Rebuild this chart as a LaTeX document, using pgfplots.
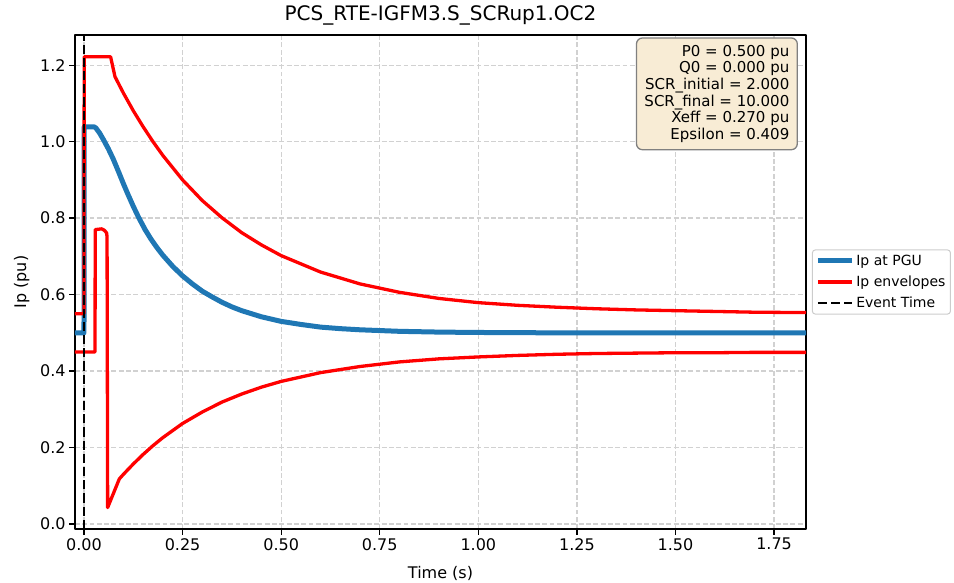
\documentclass[border=0pt]{standalone}
\usepackage{fontspec}
\setmainfont{DejaVu Sans}
\usepackage{pgfplots}
\pgfplotsset{compat=1.18}
\definecolor{mplblue}{HTML}{1F77B4}
\definecolor{boxfill}{HTML}{F8ECD5}

\begin{document}
\begin{tikzpicture}
\path[use as bounding box] (-75pt,-53pt) rectangle (879pt,529pt);
\begin{axis}[
  scale only axis,
  width=731pt, height=494pt,
  xmin=-0.0228, xmax=1.831,
  ymin=-0.013, ymax=1.279,
  xtick={0,0.25,0.5,0.75,1,1.25,1.5,1.75},
  xticklabels={0.00,0.25,0.50,0.75,1.00,1.25,1.50,1.75},
  ytick={0,0.2,0.4,0.6,0.8,1.0,1.2},
  yticklabels={0.0,0.2,0.4,0.6,0.8,1.0,1.2},
  xtick pos=bottom, ytick pos=left,
  tick align=outside,
  major tick length=5.8pt,
  tick style={line width=1.3pt, black},
  axis line style={line width=1.3pt, black},
  ticklabel style={font=\fontsize{16}{19}\selectfont},
  grid=major,
  major grid style={black!18, line width=1.3pt, dash pattern=on 4.9pt off 2.4pt},
  title={PCS\_RTE-IGFM3.S\_SCRup1.OC2},
  title style={font=\fontsize{20}{24}\selectfont, at={(axis description cs:0.5,1.0176)}, anchor=base},
  xlabel={Time (s)},
  xlabel style={font=\fontsize{16}{19}\selectfont, at={(axis description cs:0.5,-0.0992)}, anchor=base},
  ylabel={Ip (pu)},
  ylabel style={font=\fontsize{16}{19}\selectfont, at={(axis description cs:-0.067,0.5)}, anchor=base, rotate=0},
  legend cell align=left,
  legend image code/.code={\draw[#1] (0pt,0pt) -- (34pt,0pt);},
  legend style={at={(1.008,0.5)}, anchor=west, draw=black!20, line width=1pt,
    rounded corners=3pt, fill=white, font=\fontsize{14}{16}\selectfont,
    inner xsep=3pt, inner ysep=3pt, row sep=5pt},
  line join=round,
]
% Ip at PGU
\addplot[mplblue, line width=5pt] coordinates {
  (-0.0228,0.5) (0,0.5) (0.0005,1.039) (0.025,1.039) (0.03,1.036) (0.04,1.022)
  (0.05,1.004) (0.062,0.981) (0.074,0.955) (0.087,0.923) (0.1,0.890)
  (0.112,0.861) (0.125,0.831) (0.138,0.803) (0.155,0.770) (0.17,0.745)
  (0.185,0.723) (0.2,0.703) (0.225,0.674) (0.25,0.649) (0.275,0.628)
  (0.3,0.609) (0.325,0.594) (0.35,0.580) (0.375,0.568) (0.4,0.558)
  (0.45,0.542) (0.5,0.530) (0.55,0.522) (0.6,0.515) (0.65,0.511)
  (0.7,0.508) (0.8,0.504) (0.9,0.502) (1.0,0.501) (1.2,0.5) (1.831,0.5)
};
\addlegendentry{Ip at PGU}
% upper envelope
\addplot[red, line width=3.3pt] coordinates {
  (-0.0228,0.55) (0,0.55) (0.0005,1.222) (0.0675,1.222) (0.0786,1.17)
  (0.1,1.127) (0.125,1.081) (0.15,1.039) (0.175,1.0) (0.2,0.964)
  (0.25,0.900) (0.3,0.846) (0.35,0.801) (0.4,0.762) (0.45,0.730)
  (0.5,0.702) (0.6,0.659) (0.7,0.628) (0.8,0.606) (0.9,0.590)
  (1.0,0.579) (1.1,0.572) (1.2,0.567) (1.3,0.563) (1.4,0.560)
  (1.5,0.558) (1.6,0.556) (1.7,0.554) (1.831,0.553)
};
\addlegendentry{Ip envelopes}
% lower envelope
\addplot[red, line width=3.3pt, forget plot] coordinates {
  (-0.0228,0.45) (0.028,0.45) (0.0285,0.77) (0.045,0.772) (0.052,0.768)
  (0.0575,0.761) (0.0585,0.75) (0.060,0.043) (0.0896,0.118)
  (0.1,0.130) (0.125,0.157) (0.15,0.182) (0.175,0.205) (0.2,0.226)
  (0.25,0.263) (0.3,0.293) (0.35,0.319) (0.4,0.340) (0.45,0.358)
  (0.5,0.373) (0.6,0.396) (0.7,0.412) (0.8,0.424) (0.9,0.432)
  (1.0,0.437) (1.1,0.441) (1.2,0.444) (1.3,0.446) (1.4,0.447)
  (1.5,0.448) (1.6,0.448) (1.7,0.449) (1.831,0.449)
};
% event time
\addplot[black, line width=2.5pt, dash pattern=on 9.2pt off 4pt] coordinates {(0,-0.013) (0,1.279)};
\addlegendentry{Event Time}

\node[anchor=north east, draw=black!50, line width=1.3pt, fill=boxfill,
  rounded corners=6pt, align=right, inner xsep=8pt, inner ysep=7pt,
  font=\fontsize{15}{16.7}\selectfont]
  at (rel axis cs:0.989,0.9953)
  {P0 = 0.500 pu\\Q0 = 0.000 pu\\SCR\_initial = 2.000\\SCR\_final = 10.000\\Xeff = 0.270 pu\\Epsilon = 0.409};
\end{axis}
\end{tikzpicture}
\end{document}
